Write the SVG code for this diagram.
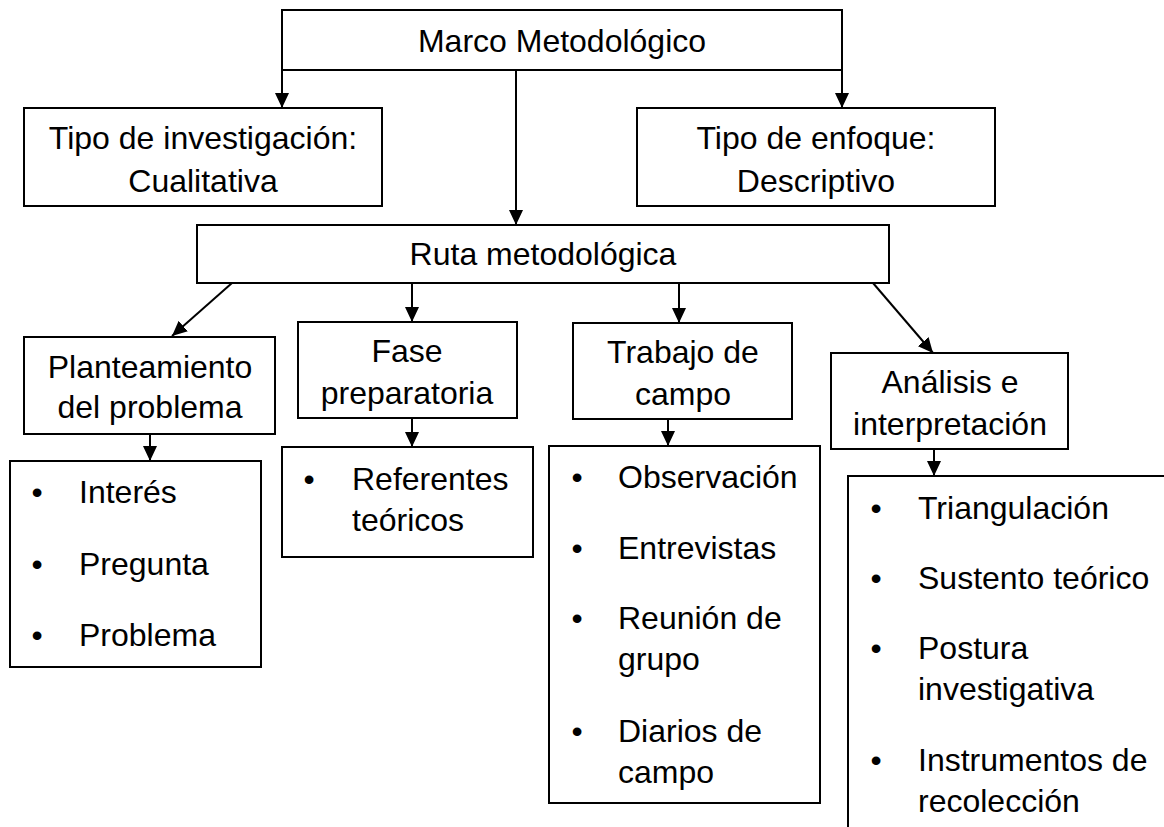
<svg xmlns="http://www.w3.org/2000/svg" width="1164" height="827" viewBox="0 0 1164 827">
<style>
.box{fill:#fff;stroke:#000;stroke-width:2}
.t{font-family:"Liberation Sans",Arial,sans-serif;font-size:32px;fill:#000}
.c{text-anchor:middle}
.b{text-anchor:middle}
.ln{fill:none;stroke:#000;stroke-width:2}
</style>
<defs>
<marker id="ah" markerUnits="userSpaceOnUse" markerWidth="16" markerHeight="14" refX="15" refY="7" orient="auto">
<path d="M0,0 L15,7 L0,14 Z" fill="#000"/>
</marker>
</defs>
<rect width="1164" height="827" fill="#fff"/>
<g id="connectors">
<line class="ln" x1="282" y1="70" x2="282" y2="108" marker-end="url(#ah)"/>
<line class="ln" x1="842" y1="70" x2="842" y2="108" marker-end="url(#ah)"/>
<line class="ln" x1="516" y1="70" x2="516" y2="225" marker-end="url(#ah)"/>
<line class="ln" x1="232" y1="283" x2="172" y2="336" marker-end="url(#ah)"/>
<line class="ln" x1="412" y1="283" x2="412" y2="322" marker-end="url(#ah)"/>
<line class="ln" x1="679" y1="283" x2="679" y2="323" marker-end="url(#ah)"/>
<line class="ln" x1="873" y1="283" x2="933" y2="353" marker-end="url(#ah)"/>
<line class="ln" x1="150" y1="434" x2="150" y2="461" marker-end="url(#ah)"/>
<line class="ln" x1="412" y1="418" x2="412" y2="447" marker-end="url(#ah)"/>
<line class="ln" x1="668" y1="419" x2="668" y2="446" marker-end="url(#ah)"/>
<line class="ln" x1="934" y1="449" x2="934" y2="476" marker-end="url(#ah)"/>
</g>
<g id="marco">
<rect class="box" x="282" y="10" width="560" height="60"/>
<text class="t c" x="562" y="52">Marco Metodológico</text>
</g>
<g id="tipo-investigacion">
<rect class="box" x="24" y="108" width="358" height="98"/>
<text class="t c" x="203" y="149">Tipo de investigación:</text>
<text class="t c" x="203" y="192">Cualitativa</text>
</g>
<g id="tipo-enfoque">
<rect class="box" x="637" y="108" width="358" height="98"/>
<text class="t c" x="816" y="149">Tipo de enfoque:</text>
<text class="t c" x="816" y="192">Descriptivo</text>
</g>
<g id="ruta">
<rect class="box" x="197" y="225" width="692" height="58"/>
<text class="t c" x="543" y="265">Ruta metodológica</text>
</g>
<g id="planteamiento">
<rect class="box" x="24" y="337" width="251" height="97"/>
<text class="t c" x="150" y="378">Planteamiento</text>
<text class="t c" x="150" y="418">del problema</text>
</g>
<g id="fase">
<rect class="box" x="298" y="322" width="219" height="96"/>
<text class="t c" x="407" y="362">Fase</text>
<text class="t c" x="407" y="404">preparatoria</text>
</g>
<g id="trabajo">
<rect class="box" x="573" y="323" width="219" height="96"/>
<text class="t c" x="683" y="363">Trabajo de</text>
<text class="t c" x="683" y="405">campo</text>
</g>
<g id="analisis">
<rect class="box" x="831" y="353" width="237" height="96"/>
<text class="t c" x="950" y="393">Análisis e</text>
<text class="t c" x="950" y="435">interpretación</text>
</g>
<g id="lista-planteamiento">
<rect class="box" x="10" y="461" width="251" height="206"/>
<text class="t b" x="37" y="503">•</text><text class="t" x="79" y="503">Interés</text>
<text class="t b" x="37" y="575">•</text><text class="t" x="79" y="575">Pregunta</text>
<text class="t b" x="37" y="646">•</text><text class="t" x="79" y="646">Problema</text>
</g>
<g id="lista-fase">
<rect class="box" x="282" y="447" width="251" height="110"/>
<text class="t b" x="309" y="490">•</text><text class="t" x="352" y="490">Referentes</text>
<text class="t" x="352" y="531">teóricos</text>
</g>
<g id="lista-trabajo">
<rect class="box" x="549" y="446" width="271" height="357"/>
<text class="t b" x="577" y="488">•</text><text class="t" x="618" y="488">Observación</text>
<text class="t b" x="577" y="559">•</text><text class="t" x="618" y="559">Entrevistas</text>
<text class="t b" x="577" y="629">•</text><text class="t" x="618" y="629">Reunión de</text>
<text class="t" x="618" y="670">grupo</text>
<text class="t b" x="577" y="742">•</text><text class="t" x="618" y="742">Diarios de</text>
<text class="t" x="618" y="783">campo</text>
</g>
<g id="lista-analisis">
<path class="ln" d="M1170,476 H848 V830"/>
<text class="t b" x="876" y="519">•</text><text class="t" x="918" y="519">Triangulación</text>
<text class="t b" x="876" y="589">•</text><text class="t" x="918" y="589">Sustento teórico</text>
<text class="t b" x="876" y="659">•</text><text class="t" x="918" y="659">Postura</text>
<text class="t" x="918" y="700">investigativa</text>
<text class="t b" x="876" y="771">•</text><text class="t" x="918" y="771">Instrumentos de</text>
<text class="t" x="918" y="812">recolección</text>
</g>
</svg>
